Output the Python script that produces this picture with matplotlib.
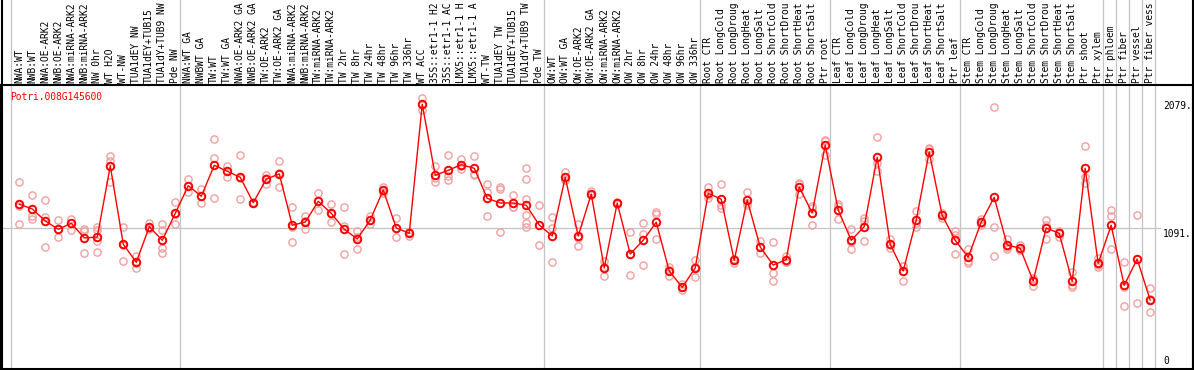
import matplotlib
matplotlib.use('Agg')
import matplotlib.pyplot as plt
from matplotlib.lines import Line2D


gene = 'Potri.008G145600'

# sample names as shown in the header (the long ones are cut short there)
samples = [
    'NWA:WT', 'NWB:WT', 'NWA:OE-ARK2', 'NWB:OE-ARK2', 'NWA:miRNA-ARK2',
    'NWB:miRNA-ARK2', 'NW 0hr', 'WT H2O', 'WT-NW', 'TUA1dEY NW',
    'TUA1dEY+TUB15', 'TUA1dY+TUB9 NW', 'Pde NW',
    'NWA:WT GA', 'NWBWT GA', 'TW:WT', 'TW:WT GA', 'NWA:OE-ARK2 GA',
    'NWB:OE-ARK2 GA', 'TW:OE-ARK2', 'TW:OE-ARK2 GA', 'NWA:miRNA-ARK2',
    'NWB:miRNA-ARK2', 'TW:miRNA-ARK2', 'TW:miRNA-ARK2', 'TW 2hr', 'TW 8hr',
    'TW 24hr', 'TW 48hr', 'TW 96hr', 'TW 336hr', 'WT ACC', '35S::etr1-1 H2',
    '35S::etr1-1 AC', 'LMX5::etr1-1 H', 'LMX5::etr1-1 A', 'WT-TW',
    'TUA1dEY TW', 'TUA1dEY+TUB15', 'TUA1dY+TUB9 TW', 'Pde TW',
    'OW:WT', 'OW:WT GA', 'OW:OE-ARK2', 'OW:OE-ARK2 GA', 'OW:miRNA-ARK2',
    'OW:miRNA-ARK2', 'OW 2hr', 'OW 8hr', 'OW 24hr', 'OW 48hr', 'OW 96hr',
    'OW 336hr',
    'Root CTR', 'Root LongCold', 'Root LongDroug', 'Root LongHeat',
    'Root LongSalt', 'Root ShortCold', 'Root ShortDrou', 'Root ShortHeat',
    'Root ShortSalt', 'Ptr root',
    'Leaf CTR', 'Leaf LongCold', 'Leaf LongDroug', 'Leaf LongHeat',
    'Leaf LongSalt', 'Leaf ShortCold', 'Leaf ShortDrou', 'Leaf ShortHeat',
    'Leaf ShortSalt', 'Ptr leaf',
    'Stem CTR', 'Stem LongCold', 'Stem LongDroug', 'Stem LongHeat',
    'Stem LongSalt', 'Stem ShortCold', 'Stem ShortDrou', 'Stem ShortHeat',
    'Stem ShortSalt', 'Ptr shoot', 'Ptr xylem',
    'Ptr phloem', 'Ptr fiber', 'Ptr vessel', 'Ptr fiber vess',
]

means = [
    1272, 1236, 1143, 1079, 1125, 1012, 1019, 1568, 963, 824, 1099, 994, 1202,
    1416, 1334, 1573, 1527, 1480, 1284, 1467, 1506, 1110, 1135, 1295, 1202,
    1079, 1004, 1151, 1382, 1089, 1048, 2044, 1496, 1534, 1578, 1550, 1318,
    1282, 1282, 1264, 1112,
    1027, 1480, 1027, 1351, 780, 1282, 888, 994, 1133, 757, 631, 780,
    1357, 1311, 839, 1305, 942, 803, 844, 1405, 1205, 1728,
    1228, 994, 1099, 1635, 963, 757, 1148, 1676, 1187, 994,
    863, 1133, 1326, 958, 932, 680, 1089, 1048, 677, 1550, 816,
    1110, 646, 849, 533,
]

replicates = [
    [1442, 1256, 1117], [1344, 1182, 1161], [1305, 1176, 942],
    [1151, 1017, 1079], [1156, 1127, 1076], [1083, 1066, 896],
    [1099, 1073, 990, 901], [1645, 1609, 1446], [1097, 960, 832],
    [875, 778, 820], [1130, 1087, 1080], [1117, 1073, 932, 893],
    [1287, 1122, 1200],
    [1467, 1365, 1416], [1390, 1280, 1333], [1774, 1627, 1318],
    [1568, 1485, 1527], [1653, 1313, 1475], [1284, 1290, 1278],
    [1500, 1426, 1475], [1604, 1403, 1510], [1251, 978, 1100],
    [1182, 1079, 1145], [1359, 1228, 1297], [1274, 1133, 1200],
    [1251, 1104, 888], [1063, 927, 1020], [1182, 1117, 1152],
    [1408, 1361, 1378], [1166, 1017, 1085], [1060, 1029, 1055],
    [2093, 2000, 2040], [1568, 1446, 1475], [1650, 1490, 1460],
    [1622, 1545, 1567], [1647, 1506, 1497], [1429, 1365, 1182],
    [1403, 1390, 1056], [1344, 1253, 1250],
    [1550, 1465, 1311, 1189, 1125, 1099], [1264, 958, 1115],
    [1172, 1091, 824], [1519, 1460, 1461], [1117, 950, 1015],
    [1375, 1340, 1340], [836, 720, 785], [1282, 1290, 1275],
    [1056, 726, 885], [1125, 1043, 803], [1215, 1197, 1004],
    [790, 718, 762], [654, 608, 630], [842, 708, 790],
    [1408, 1318, 1345], [1426, 1266, 1241], [849, 816, 852],
    [1365, 1266, 1285], [990, 893, 942], [978, 741, 677],
    [875, 829, 830], [1439, 1351, 1425], [1259, 1112, 1245],
    [1768, 1653, 1762],
    [1274, 1156, 1255], [1079, 924, 980], [1164, 988, 1145],
    [1792, 1593, 1531], [1002, 932, 955], [795, 680, 795],
    [1220, 1099, 1125], [1699, 1622, 1705], [1207, 1164, 1190],
    [1068, 1035, 888],
    [924, 836, 816], [1158, 1110, 1130], [2021, 1094, 873],
    [1004, 924, 945], [958, 919, 920], [705, 641, 695],
    [1151, 1002, 1115], [1060, 1022, 1062], [751, 631, 650],
    [1722, 1485, 1439], [860, 790, 800],
    [1228, 1184, 924], [824, 484, 630], [1187, 507, 850], [623, 438, 540],
]

# first sample index of each tissue block (and the end)
group_starts = [0, 13, 41, 53, 63, 73, 84, 85, 86, 87, 88]
y_marks = [2079, 1091, 0]
mid_value = 1091

W, H = 1194, 370
mono = 'DejaVu Sans Mono'
fs = 6.9


def main() -> None:
    fig = plt.figure(figsize=(W / 100, H / 100), dpi=100)
    ax = fig.add_axes([1 / W, 1 / H, 1192 / W, 284 / H])
    ax.set_xlim(-1.408, 90.296)
    ax.set_ylim(0, 2193)
    ax.set_xticks([])
    ax.set_yticks([])
    for side in ['left', 'right', 'bottom', 'top']:
        ax.spines[side].set_linewidth(1.5)

    top_frac = 369 / 284

    # tissue separators run through the header too
    for b in group_starts:
        ax.axvline(b - 0.64, ymin=0, ymax=top_frac, color='#c4c4c4',
                   lw=0.9, clip_on=False, zorder=1)
    ax.axhline(mid_value, xmin=0, xmax=0.972, color='#c4c4c4', lw=0.9,
               zorder=1)

    # outer frame up to the top of the image
    for xf in [1.5 / W, 1 - 1.5 / W]:
        fig.add_artist(Line2D([xf, xf], [0, 1], color='black', lw=1.5))

    x = list(range(len(samples)))
    rx, ry = [], []
    for i, reps in enumerate(replicates):
        rx += [i] * len(reps)
        ry += reps
    ax.plot(rx, ry, linestyle='none', marker='o', markersize=5.2,
            markerfacecolor='none', markeredgecolor='#f0a0a0',
            markeredgewidth=1.0, zorder=2)
    ax.plot(x, means, color='#ff0000', lw=1.0, marker='o', markersize=5.4,
            markerfacecolor='none', markeredgecolor='#ff0000',
            markeredgewidth=1.4, zorder=3)

    # sample names, rotated, above the plot frame
    for i, name in enumerate(samples):
        ax.text(i, 1.007, name, rotation=90, ha='center', va='bottom',
                transform=ax.get_xaxis_transform(), fontsize=fs,
                family=mono, clip_on=False)

    ax.text(0.0076, 0.958, gene, color='#ff0000', fontsize=fs, family=mono,
            ha='left', va='center', transform=ax.transAxes)

    trans = ax.get_yaxis_transform()
    for v in y_marks:
        label = '0' if v == 0 else f'{v}.'
        ax.text(0.9748, v + (25 if v == 0 else -10), label, fontsize=fs,
                family=mono, ha='left', va='bottom' if v == 0 else 'top',
                transform=trans)

    fig.savefig('out.png', dpi=100)


if __name__ == '__main__':
    main()
